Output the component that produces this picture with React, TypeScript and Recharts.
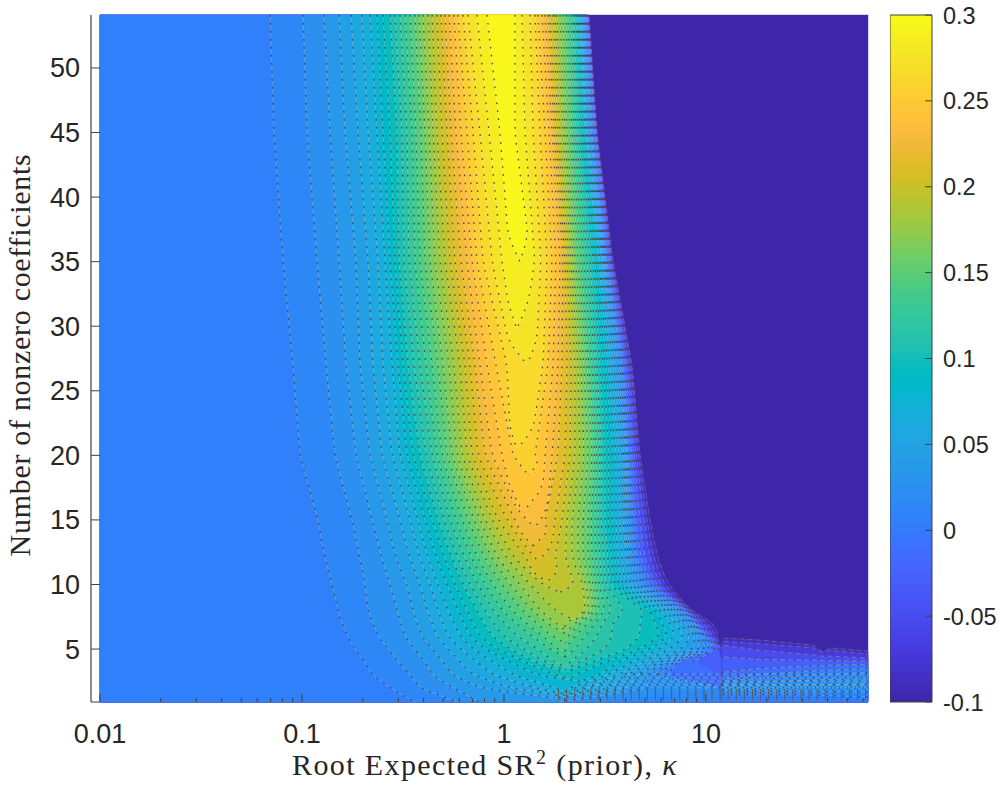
import React from "react";
import { Bar, BarChart, Scatter, ScatterChart, XAxis, YAxis } from "recharts";

// contour levels of the surface; band i spans level i .. level i+1
const contourLevels = [
  -0.095, -0.08, -0.06, -0.04, -0.02, 0, 0.01, 0.02, 0.03, 0.04, 0.05, 0.06, 0.07, 0.08, 0.09, 0.1, 0.11, 0.12,
  0.13, 0.14, 0.15, 0.16, 0.17, 0.18, 0.19, 0.2, 0.21, 0.22, 0.23, 0.24, 0.25, 0.26, 0.27, 0.28, 0.29,
];

// rows of K (number of nonzero coefficients) at which the contours were read
const contourRows = [54.1, 45, 35, 27, 20, 15, 12, 10, 8, 7, 6, 5, 4, 3, 2, 0.9];

// log10(kappa) where each positive level (0.01, 0.02, ...) is crossed going up the ridge, one array per row
const left54 = [-1.158, -0.995, -0.891, -0.817, -0.757, -0.703, -0.663, -0.629, -0.599, -0.564, -0.54, -0.515, -0.49, -0.465, -0.441, -0.421, -0.401, -0.376, -0.356, -0.332, -0.312, -0.292, -0.272, -0.248, -0.228, -0.203, -0.178, -0.134, -0.084];
const left45 = [-1.139, -0.975, -0.861, -0.787, -0.723, -0.673, -0.629, -0.599, -0.564, -0.53, -0.505, -0.48, -0.455, -0.436, -0.411, -0.391, -0.371, -0.351, -0.332, -0.307, -0.282, -0.262, -0.238, -0.213, -0.183, -0.153, -0.119, -0.074, -0.02];
const left35 = [-1.094, -0.926, -0.817, -0.733, -0.673, -0.624, -0.589, -0.564, -0.54, -0.52, -0.495, -0.47, -0.441, -0.416, -0.391, -0.366, -0.342, -0.317, -0.292, -0.267, -0.243, -0.213, -0.183, -0.158, -0.134, -0.104, -0.059, -0.01];
const left27 = [-1.045, -0.881, -0.782, -0.713, -0.649, -0.599, -0.554, -0.525, -0.5, -0.475, -0.446, -0.416, -0.386, -0.356, -0.327, -0.302, -0.272, -0.248, -0.218, -0.193, -0.168, -0.144, -0.119, -0.084, -0.04, 0.015];
const left20 = [-1.01, -0.837, -0.733, -0.663, -0.604, -0.554, -0.515, -0.48, -0.45, -0.416, -0.386, -0.356, -0.332, -0.307, -0.282, -0.257, -0.233, -0.208, -0.183, -0.158, -0.129, -0.094, -0.059, -0.01, 0.045];
const left15 = [-0.921, -0.752, -0.653, -0.579, -0.515, -0.465, -0.426, -0.391, -0.356, -0.327, -0.297, -0.267, -0.238, -0.208, -0.178, -0.149, -0.119, -0.094, -0.059, -0.03, 0.015, 0.054];
const left12 = [-0.886, -0.713, -0.604, -0.535, -0.465, -0.416, -0.376, -0.332, -0.292, -0.257, -0.228, -0.193, -0.158, -0.129, -0.094, -0.059, -0.03, 0.015, 0.054, 0.114];
const left10 = [-0.851, -0.688, -0.564, -0.48, -0.416, -0.366, -0.327, -0.282, -0.243, -0.203, -0.168, -0.129, -0.094, -0.054, -0.01, 0.03, 0.079, 0.129, 0.188];
const left8 = [-0.822, -0.673, -0.53, -0.45, -0.381, -0.327, -0.277, -0.228, -0.183, -0.134, -0.094, -0.054, -0.01, 0.04, 0.089, 0.139, 0.178, 0.252];
const left7 = [-0.802, -0.649, -0.51, -0.431, -0.356, -0.302, -0.248, -0.198, -0.153, -0.099, -0.05, 0.005, 0.059, 0.109, 0.163, 0.213, 0.257];
const left6 = [-0.777, -0.624, -0.49, -0.406, -0.332, -0.277, -0.218, -0.168, -0.119, -0.059, -0.005, 0.064, 0.139, 0.193, 0.238];
const left5 = [-0.738, -0.574, -0.446, -0.356, -0.277, -0.213, -0.153, -0.094, -0.035, 0.03, 0.099, 0.168, 0.228, 0.267];
const left4 = [-0.688, -0.525, -0.391, -0.302, -0.218, -0.134, -0.054, 0.03, 0.104, 0.153, 0.203, 0.252];
const left3 = [-0.653, -0.465, -0.356, -0.257, -0.153, -0.054, 0.045, 0.163, 0.252];
const left2 = [-0.564, -0.416, -0.252, -0.119, 0.03, 0.153, 0.252];
const left1 = [-0.441, -0.233, -0.119];

// log10(kappa) where each level is crossed coming down the far side, lowest level first
const right54 = [0.421, 0.418, 0.416, 0.413, 0.411, 0.406, 0.401, 0.396, 0.391, 0.386, 0.381, 0.376, 0.371, 0.366, 0.361, 0.356, 0.347, 0.342, 0.332, 0.317, 0.307, 0.292, 0.277, 0.262, 0.252, 0.243, 0.228, 0.218, 0.203, 0.188, 0.168, 0.153, 0.129, 0.089, 0.054];
const right45 = [0.46, 0.458, 0.455, 0.453, 0.45, 0.441, 0.436, 0.431, 0.426, 0.416, 0.411, 0.406, 0.401, 0.391, 0.386, 0.376, 0.366, 0.356, 0.347, 0.337, 0.327, 0.312, 0.302, 0.292, 0.277, 0.267, 0.257, 0.248, 0.238, 0.223, 0.203, 0.178, 0.144, 0.104, 0.054];
const right35 = [0.54, 0.535, 0.53, 0.525, 0.517, 0.51, 0.505, 0.5, 0.495, 0.49, 0.485, 0.475, 0.47, 0.46, 0.45, 0.441, 0.426, 0.411, 0.396, 0.381, 0.366, 0.354, 0.342, 0.332, 0.322, 0.312, 0.302, 0.292, 0.277, 0.257, 0.238, 0.213, 0.183, 0.153];
const right27 = [0.634, 0.629, 0.619, 0.609, 0.599, 0.589, 0.584, 0.574, 0.564, 0.552, 0.54, 0.527, 0.515, 0.502, 0.49, 0.475, 0.46, 0.45, 0.436, 0.421, 0.411, 0.396, 0.381, 0.366, 0.351, 0.332, 0.312, 0.287, 0.267, 0.243, 0.218, 0.193];
const right20 = [0.673, 0.666, 0.656, 0.644, 0.634, 0.624, 0.614, 0.609, 0.604, 0.594, 0.584, 0.569, 0.554, 0.54, 0.52, 0.5, 0.485, 0.475, 0.46, 0.45, 0.436, 0.416, 0.396, 0.376, 0.351, 0.327, 0.302, 0.267, 0.238, 0.203, 0.153];
const right15 = [0.723, 0.708, 0.693, 0.673, 0.653, 0.639, 0.629, 0.619, 0.609, 0.599, 0.589, 0.574, 0.554, 0.535, 0.515, 0.5, 0.48, 0.465, 0.45, 0.431, 0.416, 0.391, 0.366, 0.337, 0.312, 0.287, 0.252, 0.203];
const right12 = [0.762, 0.743, 0.723, 0.698, 0.678, 0.658, 0.649, 0.634, 0.624, 0.614, 0.604, 0.584, 0.564, 0.55, 0.535, 0.515, 0.495, 0.475, 0.455, 0.436, 0.416, 0.391, 0.366, 0.337, 0.302, 0.252];
const right10 = [0.812, 0.792, 0.772, 0.752, 0.733, 0.713, 0.693, 0.678, 0.658, 0.639, 0.619, 0.599, 0.579, 0.559, 0.54, 0.52, 0.5, 0.485, 0.47, 0.455, 0.441, 0.426, 0.406, 0.391, 0.351];
const right8 = [0.926, 0.921, 0.911, 0.906, 0.901, 0.891, 0.881, 0.866, 0.851, 0.837, 0.822, 0.802, 0.777, 0.752, 0.723, 0.688, 0.599, 0.535, 0.5, 0.475, 0.46, 0.446, 0.426, 0.401];
const right7 = [1.035, 1.01, 0.99, 0.97, 0.955, 0.946, 0.941, 0.931, 0.916, 0.901, 0.871, 0.847, 0.822, 0.782, 0.748, 0.673, 0.535, 0.485, 0.45, 0.416, 0.376, 0.351, 0.302];
const right6 = [1.064, 1.05, 1.035, 1.02, 1.005, 0.995, 0.985, 0.975, 0.96, 0.946, 0.926, 0.896, 0.847, 0.812, 0.772, 0.673, 0.535, 0.46, 0.401, 0.351, 0.317];
const right5 = [1.079, 1.074, 1.069, 1.064, 1.054, 1.045, 1.025, 1.0, 0.97, 0.936, 0.881, 0.822, 0.772, 0.723, 0.673, 0.609, 0.5, 0.411, 0.351, 0.302];
const right4 = [1.079, 1.079, 1.079, 1.079, 0.936, 0.856, 0.837, 0.817, 0.797, 0.772, 0.733, 0.688, 0.634, 0.564, 0.5, 0.436, 0.376, 0.327];
const right3 = [1.079, 1.079, 1.079, 1.079, 1.079, 0.812, 0.772, 0.733, 0.698, 0.658, 0.609, 0.564, 0.515, 0.475, 0.351];
const right2 = [1.079, 1.079, 1.079, 1.079, 1.079, 1.079, 1.079, 1.079, 0.723, 0.614, 0.525, 0.426, 0.327];
const right1 = [1.079, 1.079, 1.079, 1.079, 1.079, 1.079, 1.079, 0.475, 0.277];

const leftEdges = [left54, left45, left35, left27, left20, left15, left12, left10, left8, left7, left6, left5, left4, left3, left2, left1];
const rightEdges = [right54, right45, right35, right27, right20, right15, right12, right10, right8, right7, right6, right5, right4, right3, right2, right1];

// where the closed contours end at the bottom, levels 0.04 .. 0.29
const closureLogKappa = [0.252, 0.277, 0.302, 0.302, 0.376, 0.327, 0.302, 0.302, 0.302, 0.302, 0.302, 0.302, 0.302, 0.302, 0.351, 0.277, 0.213, 0.168, 0.144, 0.153, 0.094, 0.119, 0.064, 0.114, 0.064, 0.079];
const closureK = [1.2, 1.4, 1.5, 1.7, 2.5, 2.7, 3.2, 3.4, 3.6, 4.4, 4.8, 5.5, 6.2, 6.5, 7.2, 9.4, 10.2, 11.8, 13, 14.4, 15.6, 18.5, 20.5, 27, 29.8, 35];

// width of the ridge contours just above their closure, levels 0.20 .. 0.29
const shoulderK = [11, 13, 14, 15.8, 17.5, 19.3, 22, 28.9, 31.8, 37];
const shoulderLeft = [0.139, 0.104, 0.084, 0.064, 0.03, 0.079, 0.03, 0.02, 0.02, 0.02];
const shoulderRight = [0.267, 0.238, 0.213, 0.213, 0.193, 0.168, 0.144, 0.163, 0.119, 0.119];

// lower right corner, where the contours run sideways to the plot edge
const tailLogKappa = [1.079, 1.267, 1.53, 1.579, 1.614, 1.802];
const tailLevels = [-0.095, -0.08, -0.06, -0.04, -0.02, 0, 0.01, 0.02, 0.03];
const tailTop = [
  [5.85, 5.7, 5.3, 4.77, 5.08, 4.85],
  [5.6, 5.4, 5.1, 4.7, 4.9, 4.6],
  [5.3, 4.9, 4.55, 4.45, 4.45, 4.3],
  [4.4, 4.2, 4.15, 4.1, 4.1, 4.07],
  [3.2, 3.5, 3.7, 3.7, 3.75, 3.8],
  [2.75, 3.05, 3.3, 3.33, 3.35, 3.5],
  [2.5, 2.75, 3, 3.03, 3.05, 3.2],
  [2.3, 2.45, 2.6, 2.63, 2.65, 2.75],
  [2.15, 2.2, 2.25, 2.25, 2.25, 2.3],
];
const tailBottom = [
  [0.9, 0.9, 0.9, 0.9, 0.9, 0.9],
  [0.9, 0.9, 0.9, 0.9, 0.9, 0.9],
  [0.9, 0.9, 0.9, 0.9, 0.9, 0.9],
  [0.9, 0.9, 0.9, 0.9, 0.9, 0.9],
  [0.9, 0.9, 0.9, 0.9, 0.9, 0.9],
  [0.9, 0.9, 0.9, 0.9, 0.9, 0.9],
  [1.5, 1.5, 1.45, 1.4, 1.4, 1.3],
  [1.75, 1.75, 1.7, 1.7, 1.7, 1.67],
  [1.9, 1.95, 2, 2, 2, 2.05],
];

// short contour pieces along the bottom edge and the crowded lines above them
const bottomRibs = [0.27, 0.31, 0.35, 0.39, 0.43, 0.47, 0.51, 0.55, 0.59, 0.63, 0.67, 0.71, 0.75, 0.79, 0.83, 0.87, 0.91, 0.95, 0.99, 1.03, 1.07, 1.11, 1.15, 1.19, 1.23, 1.27, 1.31, 1.35, 1.39, 1.43, 1.47, 1.51, 1.55, 1.59, 1.63, 1.67, 1.71, 1.75, 1.79];
const crowdedK = [3.05, 2.75, 2.5, 2.25, 2.0];
const crowdedFrom = [0.6, 0.5, 0.45, 0.4, 0.35];

const xTicks = [-2, -1.699, -1.523, -1.398, -1.301, -1.222, -1.155, -1.097, -1.046, -1, -0.699, -0.523, -0.398, -0.301, -0.222, -0.155, -0.097, -0.046, 0, 0.301, 0.477, 0.602, 0.699, 0.778, 0.845, 0.903, 0.954, 1, 1.301, 1.477, 1.602, 1.699, 1.778];
const xTickLabels: Record<string, string> = { "-2": "0.01", "-1": "0.1", "0": "1", "1": "10" };
const yTicks = [5, 10, 15, 20, 25, 30, 35, 40, 45, 50];
const colorbarTicks = [-0.1, -0.05, 0, 0.05, 0.1, 0.15, 0.2, 0.25, 0.3];

const parula = [
  [0.2422, 0.1504, 0.6603], [0.2504, 0.165, 0.7076], [0.2578, 0.1818, 0.7511], [0.2647, 0.1978, 0.7952],
  [0.2706, 0.2147, 0.8364], [0.2751, 0.2342, 0.871], [0.2783, 0.2559, 0.8991], [0.2803, 0.2782, 0.9221],
  [0.2813, 0.3006, 0.9414], [0.281, 0.3228, 0.9579], [0.2795, 0.3447, 0.9717], [0.276, 0.3667, 0.9829],
  [0.2699, 0.3892, 0.9906], [0.2602, 0.4123, 0.9952], [0.244, 0.4358, 0.9988], [0.2206, 0.4603, 0.9973],
  [0.1963, 0.4847, 0.9892], [0.1834, 0.5074, 0.9798], [0.1786, 0.5289, 0.9682], [0.1764, 0.5499, 0.952],
  [0.1687, 0.5703, 0.9359], [0.154, 0.5902, 0.9218], [0.146, 0.6091, 0.9079], [0.138, 0.6276, 0.8973],
  [0.1248, 0.6459, 0.8883], [0.1113, 0.6635, 0.8763], [0.0952, 0.6798, 0.8598], [0.0689, 0.6948, 0.8394],
  [0.0297, 0.7082, 0.8163], [0.0036, 0.7203, 0.7917], [0.0067, 0.7312, 0.766], [0.0433, 0.7411, 0.7394],
  [0.0964, 0.75, 0.712], [0.1408, 0.7584, 0.6842], [0.1717, 0.767, 0.6554], [0.1938, 0.7758, 0.6251],
  [0.2161, 0.7843, 0.5923], [0.247, 0.7918, 0.5567], [0.2906, 0.7973, 0.5188], [0.3406, 0.8008, 0.4789],
  [0.3909, 0.8029, 0.4354], [0.4456, 0.8024, 0.3909], [0.5044, 0.7993, 0.348], [0.5616, 0.7942, 0.3045],
  [0.6174, 0.7876, 0.2612], [0.672, 0.7793, 0.2227], [0.7242, 0.7698, 0.191], [0.7738, 0.7598, 0.1646],
  [0.8203, 0.7498, 0.1535], [0.8634, 0.7406, 0.1596], [0.9035, 0.733, 0.1774], [0.9393, 0.7288, 0.21],
  [0.9728, 0.7298, 0.2394], [0.9956, 0.7434, 0.2371], [0.997, 0.7659, 0.2199], [0.9952, 0.7893, 0.2028],
  [0.9892, 0.8136, 0.1885], [0.9786, 0.8386, 0.1766], [0.9676, 0.8639, 0.1643], [0.961, 0.889, 0.1537],
  [0.9597, 0.9135, 0.1423], [0.9628, 0.9373, 0.1265], [0.9691, 0.9606, 0.1064], [0.9769, 0.9839, 0.0805],
];

const toHex = (c: number[]) =>
  "#" + c.map((v) => Math.round(v * 255).toString(16).padStart(2, "0")).join("");

const colorAt = (value: number) => {
  const pos = Math.min(63, Math.max(0, ((value + 0.1) / 0.4) * 63));
  const i = Math.min(62, Math.floor(pos));
  const t = pos - i;
  return toHex(parula[i].map((v, n) => v + (parula[i + 1][n] - v) * t));
};

const AXIS_COLOR = "#404040";
const TEXT_COLOR = "#262626";
const SANS = "'Liberation Sans', Arial, sans-serif";
const SERIF = "'Liberation Serif', 'Times New Roman', serif";
const SEAM = 1.079;

type Pt = { x: number; y: number };

// polyline with its inner corners rounded off; the bare segments of the contour stay as read
const toPath = (pts: Pt[], radius: number, start = "M") => {
  let d = "";
  pts.forEach((p, i) => {
    const prev = pts[i - 1];
    const next = pts[i + 1];
    if (!prev || !next || radius === 0) {
      d += `${i ? "L" : start}${p.x} ${p.y} `;
      return;
    }
    const a = Math.hypot(p.x - prev.x, p.y - prev.y);
    const b = Math.hypot(next.x - p.x, next.y - p.y);
    const r = Math.min(radius, a / 2, b / 2);
    if (r < 0.01) {
      d += `L${p.x} ${p.y} `;
      return;
    }
    const inX = p.x + ((prev.x - p.x) * r) / a;
    const inY = p.y + ((prev.y - p.y) * r) / a;
    const outX = p.x + ((next.x - p.x) * r) / b;
    const outY = p.y + ((next.y - p.y) * r) / b;
    d += `L${inX} ${inY} Q${p.x} ${p.y} ${outX} ${outY} `;
  });
  return d;
};

const NoDot = () => <g />;

const ContourStroke = ({ pts, radius }: { pts: Pt[]; radius: number }) => (
  <g fill="none">
    <path d={toPath(pts, radius)} stroke="#ffffff" strokeOpacity={0.22} strokeWidth={0.9} strokeDasharray="5 3" strokeDashoffset={-2} />
    <path d={toPath(pts, radius)} stroke="#4a4a4a" strokeWidth={1.3} strokeDasharray="1.6 6.4" />
  </g>
);

// draws one filled band plus its contour strokes from the pixel points the chart scaled for us
const bandLine =
  (fill: string, fillParts: (pts: Pt[]) => Pt[][], strokeParts: (pts: Pt[]) => Pt[][], radius: number) =>
  (props: any) => {
    const pts: Pt[] = props.points;
    const d = fillParts(pts).map((part, i) => toPath(part, radius, i ? "L" : "M")).join(" ") + " Z";
    return (
      <g>
        <path d={d} fill={fill} stroke={fill} strokeWidth={0.4} />
        {strokeParts(pts).map((part, i) =>
          part.length > 1 ? <ContourStroke key={i} pts={part} radius={radius} /> : null,
        )}
      </g>
    );
  };

const bandSeries = contourLevels.map((level, idx) => {
  const rows = contourRows.map((k, r) => ({ k, r })).filter(({ r }) => rightEdges[r].length > idx);
  const left = rows.map(({ k, r }) => ({ lk: level <= 0 ? -2 : leftEdges[r][idx - 6], k }));
  const right = rows.map(({ k, r }) => ({ lk: rightEdges[r][idx], k }));
  const closeIdx = idx - 9; // level 0.04 is index 9
  const shoulderIdx = idx - 25; // level 0.20 is index 25
  const hasClosure = closeIdx >= 0;
  const apex = hasClosure ? [{ lk: closureLogKappa[closeIdx], k: closureK[closeIdx] }] : [];
  const shoulderL = shoulderIdx >= 0 ? [{ lk: shoulderLeft[shoulderIdx], k: shoulderK[shoulderIdx] }] : [];
  const shoulderR = shoulderIdx >= 0 ? [{ lk: shoulderRight[shoulderIdx], k: shoulderK[shoulderIdx] }] : [];
  const next = contourLevels[idx + 1] ?? 0.3;
  const nLeft = left.length + shoulderL.length + apex.length;
  const nRightStroke = right.filter((p) => p.lk < SEAM).length;
  const data = [...left, ...shoulderL, ...apex, ...shoulderR, ...[...right].reverse()];
  const fillParts = (pts: Pt[]) => (hasClosure ? [pts] : [pts.slice(0, nLeft), pts.slice(nLeft)]);
  const strokeParts = (pts: Pt[]) => {
    if (hasClosure) return [pts.slice(0, nLeft), pts.slice(nLeft - 1).reverse()];
    const rightTopDown = pts.slice(nLeft).reverse().slice(0, nRightStroke);
    return level <= 0 ? [rightTopDown] : [pts.slice(0, nLeft), rightTopDown];
  };
  return { level, data, fill: colorAt((level + next) / 2), fillParts, strokeParts };
});

const tailSeries = tailLevels.map((level, idx) => {
  const top = tailLogKappa.map((lk, c) => ({ lk, k: tailTop[idx][c] }));
  const bottom = tailLogKappa.map((lk, c) => ({ lk, k: tailBottom[idx][c] }));
  const next = tailLevels[idx + 1] ?? 0.035;
  const n = top.length;
  const fillParts = (pts: Pt[]) => [pts];
  const strokeParts = (pts: Pt[]) => (level > 0 ? [pts.slice(0, n), pts.slice(n)] : [pts.slice(0, n)]);
  return { level, data: [...top, ...[...bottom].reverse()], fill: colorAt((level + next) / 2), fillParts, strokeParts };
});

const baseRect = [
  { lk: -2, k: 54.1 },
  { lk: 1.802, k: 54.1 },
  { lk: 1.802, k: 0.9 },
  { lk: -2, k: 0.9 },
];

const crowdedLine = (props: any) => <ContourStroke pts={props.points} radius={0} />;

const XTick = ({ x, y, payload }: any) => {
  const label = xTickLabels[String(payload.value)];
  return (
    <g>
      <line x1={x} x2={x} y1={y} y2={y - (label ? 8 : 4)} stroke={AXIS_COLOR} strokeWidth={1} />
      {label ? (
        <text x={x} y={y + 41} textAnchor="middle" fontFamily={SANS} fontSize={27} fill={TEXT_COLOR}>
          {label}
        </text>
      ) : null}
    </g>
  );
};

const YTick = ({ x, y, payload }: any) => (
  <g>
    <line x1={x} x2={x + 9} y1={y} y2={y} stroke={AXIS_COLOR} strokeWidth={1} />
    <text x={x - 11} y={y + 9.5} textAnchor="end" fontFamily={SANS} fontSize={27} fill={TEXT_COLOR}>
      {payload.value}
    </text>
  </g>
);

const ColorbarTick = ({ x, y, payload }: any) => (
  <g>
    <line x1={x} x2={x - 7} y1={y} y2={y} stroke={AXIS_COLOR} strokeWidth={1} />
    <text x={x + 11} y={y + 8.5} fontFamily={SANS} fontSize={23.5} fill={TEXT_COLOR}>
      {String(payload.value)}
    </text>
  </g>
);

const colorbarData = [{ name: "sr", range: [-0.1, 0.3] }];

export default function App() {
  return (
    <div style={{ position: "absolute", left: 0, top: 0, width: 1001, height: 787, background: "#fff" }}>
      <ScatterChart width={1001} height={787} margin={{ top: 15, right: 133, bottom: 0, left: 0 }}>
        <Scatter
          data={baseRect}
          shape={NoDot}
          isAnimationActive={false}
          line={bandLine(colorAt(-0.1), (pts) => [pts], () => [], 0)}
        />
        {bandSeries.map((b) => (
          <Scatter
            key={b.level}
            data={b.data}
            shape={NoDot}
            isAnimationActive={false}
            line={bandLine(b.fill, b.fillParts, b.strokeParts, 12)}
          />
        ))}
        {tailSeries.map((b) => (
          <Scatter
            key={"tail" + b.level}
            data={b.data}
            shape={NoDot}
            isAnimationActive={false}
            line={bandLine(b.fill, b.fillParts, b.strokeParts, 0)}
          />
        ))}
        {crowdedK.map((k, i) => (
          <Scatter
            key={"crowded" + k}
            data={[
              { lk: crowdedFrom[i], k },
              { lk: 1.802, k },
            ]}
            shape={NoDot}
            isAnimationActive={false}
            line={crowdedLine}
          />
        ))}
        {bottomRibs.map((lk) => (
          <Scatter
            key={"rib" + lk}
            data={[
              { lk, k: 1.9 },
              { lk, k: 1.05 },
            ]}
            shape={NoDot}
            isAnimationActive={false}
            line={{ stroke: "#5a5a5a", strokeWidth: 1 }}
          />
        ))}
        <XAxis
          type="number"
          dataKey="lk"
          domain={[-2.0446, 1.802]}
          ticks={xTicks}
          interval={0}
          height={85}
          tickSize={0}
          tickMargin={0}
          tickLine={false}
          axisLine={{ stroke: AXIS_COLOR, strokeWidth: 1.2 }}
          tick={XTick}
        />
        <YAxis
          type="number"
          dataKey="k"
          domain={[0.9, 54.1]}
          ticks={yTicks}
          interval={0}
          width={91}
          tickSize={0}
          tickMargin={0}
          tickLine={false}
          axisLine={{ stroke: AXIS_COLOR, strokeWidth: 1.2 }}
          tick={YTick}
        />
        <text x={485} y={775} textAnchor="middle" fontFamily={SERIF} fontSize={30} letterSpacing={1.4} fill={TEXT_COLOR}>
          Root Expected SR
          <tspan dy={-11} fontSize={20}>
            2
          </tspan>
          <tspan dy={11}> (prior), </tspan>
          <tspan fontStyle="italic">κ</tspan>
        </text>
        <text
          transform="translate(30 355) rotate(-90)"
          textAnchor="middle"
          fontFamily={SERIF}
          fontSize={30}
          letterSpacing={0.7}
          fill={TEXT_COLOR}
        >
          Number of nonzero coefficients
        </text>
      </ScatterChart>
      <div style={{ position: "absolute", left: 890, top: 0 }}>
        <BarChart
          width={111}
          height={787}
          data={colorbarData}
          barCategoryGap={0}
          margin={{ top: 15, right: 0, bottom: 85, left: 0 }}
        >
          <defs>
            <linearGradient id="parulaRamp" x1="0" y1="1" x2="0" y2="0">
              {parula.map((c, i) => (
                <stop key={i} offset={i / 63} stopColor={toHex(c)} />
              ))}
            </linearGradient>
          </defs>
          <XAxis dataKey="name" hide />
          <YAxis
            orientation="right"
            type="number"
            domain={[-0.1, 0.3]}
            ticks={colorbarTicks}
            interval={0}
            width={69}
            tickSize={0}
            tickMargin={0}
            tickLine={false}
            axisLine={false}
            tick={ColorbarTick}
          />
          <Bar dataKey="range" fill="url(#parulaRamp)" stroke={AXIS_COLOR} strokeWidth={1} isAnimationActive={false} />
        </BarChart>
      </div>
    </div>
  );
}
